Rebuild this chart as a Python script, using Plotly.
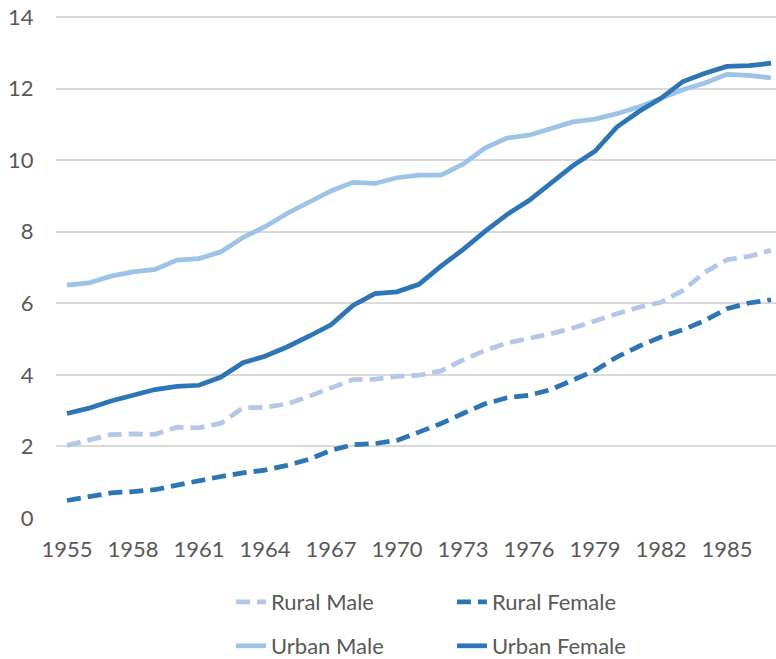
import plotly.graph_objects as go

years = list(range(1955, 1988))

rural_male = [2.03, 2.19, 2.33, 2.35, 2.34, 2.54, 2.52, 2.65, 3.08, 3.09, 3.19, 3.40, 3.64,
              3.87, 3.88, 3.96, 3.99, 4.11, 4.42, 4.68, 4.89, 5.01, 5.15, 5.31, 5.52, 5.71,
              5.89, 6.03, 6.36, 6.87, 7.22, 7.31, 7.48]
rural_female = [0.49, 0.61, 0.70, 0.74, 0.79, 0.92, 1.05, 1.16, 1.26, 1.34, 1.47, 1.64, 1.89,
                2.05, 2.08, 2.17, 2.40, 2.64, 2.92, 3.19, 3.36, 3.43, 3.59, 3.85, 4.12, 4.50,
                4.80, 5.06, 5.26, 5.52, 5.85, 6.01, 6.10]
urban_male = [6.51, 6.57, 6.76, 6.88, 6.95, 7.21, 7.25, 7.44, 7.84, 8.14, 8.51, 8.82, 9.14,
              9.38, 9.35, 9.51, 9.58, 9.58, 9.89, 10.34, 10.62, 10.70, 10.89, 11.07, 11.15,
              11.30, 11.49, 11.72, 11.97, 12.16, 12.40, 12.37, 12.30]
urban_female = [2.92, 3.07, 3.27, 3.43, 3.59, 3.68, 3.71, 3.94, 4.34, 4.52, 4.78, 5.08, 5.40,
                5.94, 6.27, 6.32, 6.53, 7.04, 7.50, 8.01, 8.48, 8.87, 9.38, 9.85, 10.25,
                10.93, 11.36, 11.73, 12.20, 12.43, 12.62, 12.64, 12.71]

FONT = "Lato"
TEXT = "#595959"
fig = go.Figure()

series = [
    ("Rural Male", rural_male, "#B4C7E7", "14px,7px", "legend"),
    ("Rural Female", rural_female, "#2E75B6", "14px,7px", "legend"),
    ("Urban Male", urban_male, "#9DC3E6", "solid", "legend2"),
    ("Urban Female", urban_female, "#2E75B6", "solid", "legend2"),
]
for name, vals, color, dash, leg in series:
    fig.add_trace(go.Scatter(
        x=years, y=vals, mode="lines", name=name,
        line=dict(color=color, width=4.75, dash=dash),
        legend=leg,
    ))

# container-referenced legends so they don't push the bottom margin
legend_common = dict(
    orientation="h", xanchor="left", yanchor="middle", yref="container",
    entrywidth=176, font=dict(family=FONT, size=22, color=TEXT),
    bgcolor="rgba(0,0,0,0)", traceorder="normal",
)

fig.update_layout(
    width=776, height=659,
    margin=dict(l=56, r=0, t=16, b=141),
    paper_bgcolor="white",
    plot_bgcolor="white",
    font=dict(family=FONT, size=22, color=TEXT),
    xaxis=dict(
        range=[1954.5, 1987.23],
        tickvals=list(range(1955, 1988, 3)),
        showgrid=False, zeroline=False, showline=False,
        ticks="outside", ticklen=12, tickcolor="rgba(0,0,0,0)",
        tickfont=dict(family=FONT, size=22, color=TEXT),
    ),
    yaxis=dict(
        range=[0, 14.03], tickvals=list(range(0, 15, 2)),
        showgrid=True, gridcolor="#D9D9D9", gridwidth=1.5,
        zeroline=False, showline=False,
        ticks="outside", ticklen=17, tickcolor="rgba(0,0,0,0)",
        tickfont=dict(family=FONT, size=22, color=TEXT),
    ),
    legend=dict(x=0.243, y=1 - 602 / 659, **legend_common),
    legend2=dict(x=0.243, y=1 - 646 / 659, **legend_common),
)

# drop the default 8px body margin so the figure sits flush in the window
fig.write_html(
    "out.html",
    config={"displayModeBar": False},
    post_script="document.body.style.margin='0';",
)
